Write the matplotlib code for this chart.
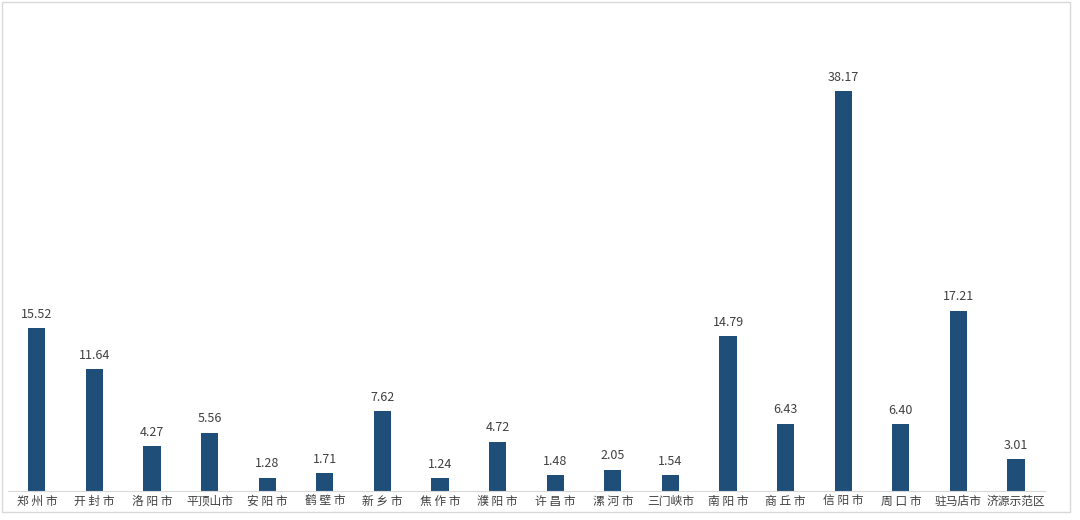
import matplotlib
matplotlib.use('Agg')
from matplotlib import pyplot as plt
from matplotlib.patches import Rectangle

plt.rcParams['font.family'] = ['Noto Sans CJK SC', 'DejaVu Sans']

cities = ['郑 州 市', '开 封 市', '洛 阳 市', '平顶山市', '安 阳 市', '鹤 壁 市',
          '新 乡 市', '焦 作 市', '濮 阳 市', '许 昌 市', '漯 河 市', '三门峡市',
          '南 阳 市', '商 丘 市', '信 阳 市', '周 口 市', '驻马店市', '济源示范区']
values = [15.52, 11.64, 4.27, 5.56, 1.28, 1.71, 7.62, 1.24, 4.72, 1.48,
          2.05, 1.54, 14.79, 6.43, 38.17, 6.40, 17.21, 3.01]

fig = plt.figure(figsize=(10.8, 5.2), dpi=100)
ax = fig.add_axes([0.0074, 0.0558, 0.960, 0.906])

x = range(len(cities))
bars = ax.bar(x, values, width=0.3, color='#1f4e79')
for bar, v in zip(bars, values):
    ax.text(bar.get_x() + bar.get_width() / 2, v + 0.7, '%.2f' % v,
            ha='center', va='bottom', fontsize=9, color='#404040')

ax.set_xlim(-0.5, len(cities) - 0.5)
ax.set_ylim(0, 45)
ax.set_xticks(list(x))
ax.set_xticklabels(cities, fontsize=8.5, color='#404040')
ax.tick_params(axis='x', length=0, pad=3)
ax.set_yticks([])
for s in ['top', 'right', 'left']:
    ax.spines[s].set_visible(False)
ax.spines['bottom'].set_color('#d9d9d9')

# outer frame
fig.patches.append(Rectangle((2 / 1080, 8 / 520), 1068 / 1080, 510 / 520,
                             transform=fig.transFigure, fill=False,
                             edgecolor='#d9d9d9', linewidth=1))

plt.savefig('out.png', dpi=100)
